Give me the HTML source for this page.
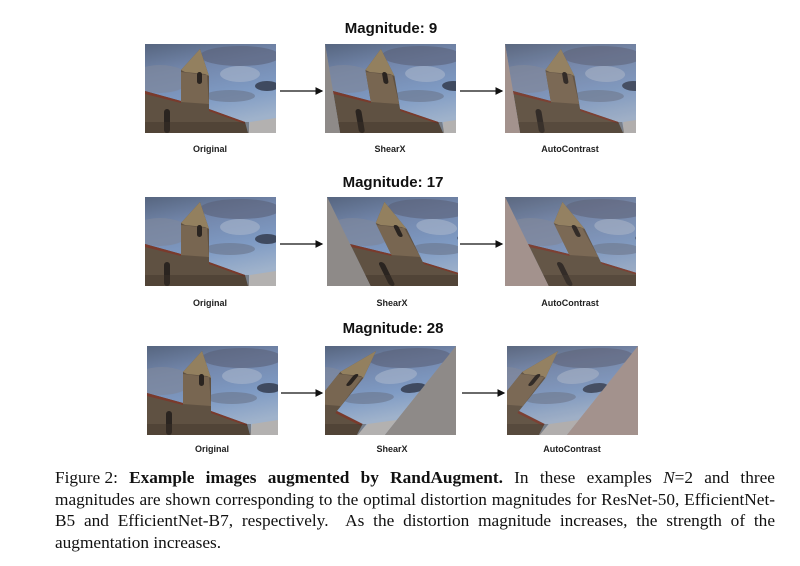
<!DOCTYPE html>
<html><head><meta charset="utf-8"><style>
body{margin:0;background:#fff;width:800px;height:566px;position:relative;overflow:hidden}
.t{position:absolute;font-family:"Liberation Sans",sans-serif;font-weight:bold;font-size:15px;color:#111;text-align:center;width:200px}
.l{position:absolute;font-family:"Liberation Sans",sans-serif;font-weight:bold;font-size:9px;color:#222;text-align:center;width:140px}
.cap{position:absolute;left:55px;width:720px;font-family:"Liberation Serif",serif;font-size:17.3px;color:#111;line-height:21.5px;top:467px}
.j{display:flex;justify-content:space-between;white-space:nowrap}
.k{text-align:justify;text-align-last:justify;white-space:nowrap}
</style></head><body>
<svg width="800" height="566" style="position:absolute;left:0;top:0">
<defs>
<linearGradient id="sky" x1="0" y1="0" x2="0.3" y2="1">
<stop offset="0" stop-color="#56657f"/><stop offset="0.35" stop-color="#7488ad"/><stop offset="0.7" stop-color="#7f9bc4"/><stop offset="1" stop-color="#9fb2cb"/></linearGradient>
<symbol id="sc" viewBox="0 0 131 89" width="131" height="89">
<rect width="131" height="89" fill="url(#sky)"/>
<ellipse cx="15" cy="35" rx="30" ry="14" fill="#7e879c" opacity="0.7"/>
<ellipse cx="95" cy="12" rx="40" ry="10" fill="#5a6178" opacity="0.6"/>
<ellipse cx="122" cy="42" rx="12" ry="5" fill="#3f4a60"/>
<ellipse cx="85" cy="52" rx="25" ry="6" fill="#6d7a93" opacity="0.7"/>
<ellipse cx="95" cy="30" rx="20" ry="8" fill="#a9b6cc" opacity="0.6"/>
<polygon points="105,78 131,74 131,89 103,89" fill="#b3b1b0"/>
<polygon points="0,47 36,57 36,26 55,5 64,32 64,65 100,78 103,89 0,89" fill="#5f5142"/>
<polygon points="36,26 55,5 64,32 60,30 40,28" fill="#93805f"/>
<polygon points="36,28 62,31 64,60 36,58" fill="#786651"/>
<polygon points="0,47 36,57 36,59 0,50" fill="#7a3a2c"/>
<polygon points="64,65 100,78 100,80 64,67" fill="#7a3a2c"/>
<rect x="52" y="28" width="5" height="12" rx="2.5" fill="#2a2420"/>
<rect x="19" y="65" width="6" height="24" rx="3" fill="#2a2420"/>
<rect x="0" y="78" width="104" height="11" fill="#3c3228" opacity="0.4"/>
</symbol>
<clipPath id="c"><rect width="131" height="89"/></clipPath>
<marker id="a" markerWidth="6" markerHeight="6" refX="5" refY="3" orient="auto"><path d="M0,0 L6,3 L0,6z" fill="#111"/></marker>
</defs>
<use href="#sc" x="145" y="44"/>
<g transform="translate(325,44)" clip-path="url(#c)"><rect width="131" height="89" fill="#8e8a88"/><g transform="matrix(1,0,0.17,1,0,0)"><use href="#sc"/></g></g>
<g transform="translate(505,44)" clip-path="url(#c)"><rect width="131" height="89" fill="#a3928d"/><g transform="matrix(1,0,0.17,1,0,0)" opacity="0.92"><use href="#sc"/></g></g>
<line x1="280" y1="91" x2="322" y2="91" stroke="#111" stroke-width="1.3" marker-end="url(#a)"/>
<line x1="460" y1="91" x2="502" y2="91" stroke="#111" stroke-width="1.3" marker-end="url(#a)"/>
<use href="#sc" x="145" y="197"/>
<g transform="translate(327,197)" clip-path="url(#c)"><rect width="131" height="90" fill="#8e8a88"/><g transform="matrix(1,0,0.49,1,0,0)"><use href="#sc"/></g></g>
<g transform="translate(505,197)" clip-path="url(#c)"><rect width="131" height="90" fill="#a3928d"/><g transform="matrix(1,0,0.49,1,0,0)" opacity="0.92"><use href="#sc"/></g></g>
<line x1="280" y1="244" x2="322" y2="244" stroke="#111" stroke-width="1.3" marker-end="url(#a)"/>
<line x1="460" y1="244" x2="502" y2="244" stroke="#111" stroke-width="1.3" marker-end="url(#a)"/>
<use href="#sc" x="147" y="346"/>
<g transform="translate(325,346)" clip-path="url(#c)"><rect width="131" height="90" fill="#8e8a88"/><g transform="matrix(1,0,-0.8,1,0,0)"><use href="#sc"/></g></g>
<g transform="translate(507,346)" clip-path="url(#c)"><rect width="131" height="90" fill="#a3928d"/><g transform="matrix(1,0,-0.8,1,0,0)" opacity="0.92"><use href="#sc"/></g></g>
<line x1="281" y1="393" x2="322" y2="393" stroke="#111" stroke-width="1.3" marker-end="url(#a)"/>
<line x1="462" y1="393" x2="504" y2="393" stroke="#111" stroke-width="1.3" marker-end="url(#a)"/>
</svg>
<div class="t" style="left:291px;top:20px">Magnitude: 9</div>
<div class="t" style="left:293px;top:174px">Magnitude: 17</div>
<div class="t" style="left:293px;top:320px">Magnitude: 28</div>
<div class="l" style="left:140px;top:144px">Original</div>
<div class="l" style="left:320px;top:144px">ShearX</div>
<div class="l" style="left:500px;top:144px">AutoContrast</div>
<div class="l" style="left:140px;top:298px">Original</div>
<div class="l" style="left:322px;top:298px">ShearX</div>
<div class="l" style="left:500px;top:298px">AutoContrast</div>
<div class="l" style="left:142px;top:444px">Original</div>
<div class="l" style="left:322px;top:444px">ShearX</div>
<div class="l" style="left:502px;top:444px">AutoContrast</div>
<div class="cap">
<div class="j"><span>Figure 2:</span><b>Example</b><b>images</b><b>augmented</b><b>by</b><b>RandAugment.</b><span>In</span><span>these</span><span>examples</span><span><i>N</i>=2</span><span>and</span><span>three</span></div>
<div class="k">magnitudes are shown corresponding to the optimal distortion magnitudes for ResNet-50, EfficientNet-</div>
<div class="k">B5 and EfficientNet-B7, respectively.&nbsp; As the distortion magnitude increases, the strength of the</div>
<div>augmentation increases.</div>
</div>
</body></html>
